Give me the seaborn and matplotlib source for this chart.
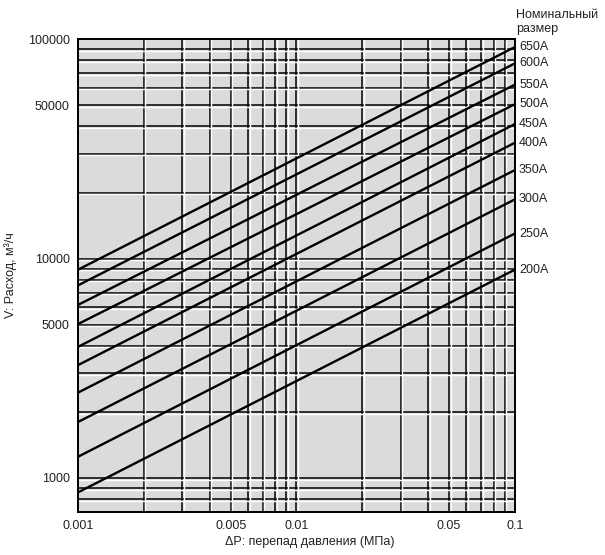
import numpy as np
import pandas as pd
import matplotlib
matplotlib.use("Agg")
import matplotlib.pyplot as plt
import matplotlib.ticker as mticker
import matplotlib.transforms as mtransforms
import seaborn as sns

# ── Data ────────────────────────────────────────────────
sizes = ["650A", "600A", "550A", "500A", "450A",
         "400A", "350A", "300A", "250A", "200A"]
dp_ends = [0.001, 0.1]                      # ΔP, МПа
flow_at_min = [8900, 7550, 6150, 5030, 3960, 3270, 2450, 1800, 1250, 860]
flow_at_max = [92000, 77500, 62000, 50500, 41000, 33700, 25300, 18600, 13000, 8900]

x_ticks = [0.001, 0.005, 0.01, 0.05, 0.1]
x_ticklabels = ["0.001", "0.005", "0.01", "0.05", "0.1"]
y_ticks = [1000, 5000, 10000, 50000, 100000]
y_ticklabels = ["1000", "5000", "10000", "50000", "100000"]

rows = []
for s, lo, hi in zip(sizes, flow_at_min, flow_at_max):
    rows.append({"size": s, "dp": dp_ends[0], "flow": lo})
    rows.append({"size": s, "dp": dp_ends[1], "flow": hi})
df = pd.DataFrame(rows)

# ── Style ───────────────────────────────────────────────
sns.set_theme(style="white")
plt.rcParams["font.family"] = ["Liberation Sans", "DejaVu Sans"]
TXT = "#222222"

fig = plt.figure(figsize=(6.05, 5.55), dpi=100)
ax = fig.add_axes([0.129, 0.0775, 0.722, 0.852])
ax.set_facecolor("#dbdbdb")

ax.set_xscale("log")
ax.set_yscale("log")
ax.set_xlim(0.001, 0.1)
ax.set_ylim(700, 100000)

ax.xaxis.set_minor_locator(mticker.LogLocator(base=10, subs=np.arange(2, 10)))
ax.yaxis.set_minor_locator(mticker.LogLocator(base=10, subs=np.arange(2, 10)))
ax.grid(which="both", color="black", linewidth=1.1, zorder=1)
ax.set_axisbelow(True)

# white "print" highlight next to each grid line
xs = [v for v in np.concatenate([ax.xaxis.get_majorticklocs(),
                                 ax.xaxis.get_minorticklocs()])
      if 0.001 < v < 0.1]
ys = [v for v in np.concatenate([ax.yaxis.get_majorticklocs(),
                                 ax.yaxis.get_minorticklocs()])
      if 700 < v < 100000]
shift_x = mtransforms.ScaledTranslation(1.15 / 72, 0, fig.dpi_scale_trans)
shift_y = mtransforms.ScaledTranslation(0, -1.15 / 72, fig.dpi_scale_trans)
ax.vlines(xs, 0, 1, colors="white", linewidth=1.0, zorder=0.9,
          transform=ax.get_xaxis_transform() + shift_x)
ax.hlines(ys, 0, 1, colors="white", linewidth=1.0, zorder=0.9,
          transform=ax.get_yaxis_transform() + shift_y)

sns.lineplot(data=df, x="dp", y="flow", units="size", estimator=None,
             color="black", linewidth=1.7, ax=ax, legend=False, zorder=3)

ax.set_xticks(x_ticks)
ax.set_xticklabels(x_ticklabels)
ax.set_yticks(y_ticks)
ax.set_yticklabels(y_ticklabels)
ax.xaxis.set_minor_formatter(mticker.NullFormatter())
ax.yaxis.set_minor_formatter(mticker.NullFormatter())
ax.tick_params(which="both", length=0, labelsize=9, pad=6, colors=TXT)

for sp in ax.spines.values():
    sp.set_color("black")
    sp.set_linewidth(1.4)

# size labels at the right end of each line
for s, hi in zip(sizes, flow_at_max):
    ax.annotate(s, xy=(dp_ends[1], hi), xytext=(3, 0),
                textcoords="offset points", ha="left", va="center",
                fontsize=9, color=TXT, annotation_clip=False)

fig.text(0.853, 0.984, "Номинальный\nразмер", ha="left", va="top",
         fontsize=9, color=TXT, linespacing=1.2)

ax.set_xlabel("ΔP: перепад давления (МПа)", fontsize=9, color=TXT)
ax.xaxis.set_label_coords(0.53, -0.05)
ax.set_ylabel("V: Расход, м³/ч", fontsize=9, color=TXT, labelpad=8)

fig.savefig("out.png", dpi=100)
